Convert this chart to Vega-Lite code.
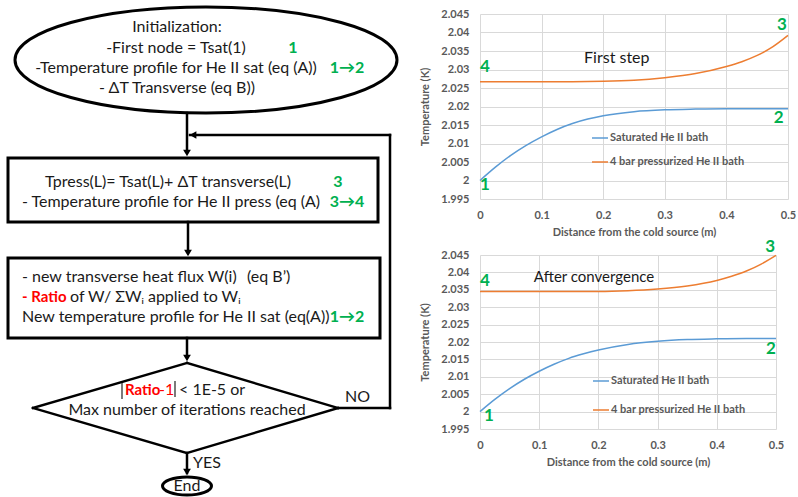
{
  "$schema": "https://vega.github.io/schema/vega-lite/v6.json",
  "padding": {"top": 0, "left": 0, "right": 0, "bottom": 0},
  "background": "white",
  "spacing": 16,
  "config": {
    "view": {"stroke": null},
    "font": "Lato",
    "axis": {"grid": true, "gridColor": "#d9d9d9", "gridWidth": 1, "domain": false, "ticks": false, "labelFlush": false,
      "labelFont": "Lato", "labelFontSize": 11, "labelFontWeight": "bold", "labelColor": "#595959",
      "titleFont": "Lato", "titleFontSize": 11, "titleFontWeight": "bold", "titleColor": "#595959"},
    "legend": {"orient": "none", "title": null, "symbolType": "stroke", "symbolStrokeWidth": 1.5, "symbolSize": 256,
      "labelFont": "Lato", "labelFontSize": 11, "labelFontWeight": "bold", "labelColor": "#595959", "labelOffset": 1, "padding": 0}
  },
  "datasets": {
    "boxes": [
      {"x": 8, "y": 158, "x2": 378, "y2": 222},
      {"x": 8, "y": 258, "x2": 380, "y2": 338}
    ],
    "links": [
      {"x": 187, "y": 113, "x2": 187, "y2": 152},
      {"x": 190, "y": 135, "x2": 390, "y2": 135},
      {"x": 390, "y": 135, "x2": 390, "y2": 408},
      {"x": 338, "y": 408, "x2": 390, "y2": 408},
      {"x": 188, "y": 222, "x2": 188, "y2": 252},
      {"x": 187, "y": 338, "x2": 187, "y2": 357},
      {"x": 187, "y": 363, "x2": 338, "y2": 408},
      {"x": 338, "y": 408, "x2": 187, "y2": 453},
      {"x": 187, "y": 453, "x2": 33, "y2": 408},
      {"x": 33, "y": 408, "x2": 187, "y2": 363},
      {"x": 187, "y": 453, "x2": 187, "y2": 473}
    ],
    "bars": [
      {"x": 122, "y": 383, "x2": 122, "y2": 399},
      {"x": 175, "y": 381, "x2": 175, "y2": 397}
    ],
    "heads": [
      {"x": 187, "y": 153, "dir": "down"},
      {"x": 188, "y": 253, "dir": "down"},
      {"x": 187, "y": 358, "dir": "down"},
      {"x": 187, "y": 472, "dir": "down"},
      {"x": 193, "y": 135, "dir": "left"}
    ],
    "startNode": [{"x": 206, "y": 60}],
    "endNode": [{"x": 187, "y": 486}],
    "centerText": [
      {"x": 177, "y": 27, "t": "Initialization:"},
      {"x": 176, "y": 48, "t": "-First node = Tsat(1)"},
      {"x": 176, "y": 68, "t": "-Temperature profile for He II sat (eq (A))"},
      {"x": 177, "y": 88, "t": "- ΔT Transverse (eq B))"},
      {"x": 168, "y": 182, "t": "Tpress(L)= Tsat(L)+ ΔT transverse(L)"},
      {"x": 171, "y": 202, "t": "- Temperature profile  for He II press (eq (A)"},
      {"x": 187, "y": 410, "t": "Max number of iterations reached"},
      {"x": 187, "y": 486, "t": "End"}
    ],
    "leftText": [
      {"x": 22, "y": 277, "t": "- new transverse heat flux W(i)"},
      {"x": 247, "y": 277, "t": "(eq B’)"},
      {"x": 70, "y": 297, "t": "of W/ ΣWᵢ applied to Wᵢ"},
      {"x": 22, "y": 317, "t": "New temperature profile for He II sat (eq(A))"},
      {"x": 179, "y": 390, "t": "< 1E-5 or"},
      {"x": 345, "y": 397, "t": "NO"},
      {"x": 193, "y": 463, "t": "YES"}
    ],
    "greenText": [
      {"x": 293, "y": 48, "t": "1"},
      {"x": 347, "y": 68, "t": "1→2"},
      {"x": 338, "y": 182, "t": "3"},
      {"x": 347, "y": 202, "t": "3→4"},
      {"x": 347, "y": 317, "t": "1→2"}
    ],
    "redBold": [
      {"x": 22, "y": 297, "t": "- Ratio"},
      {"x": 125, "y": 390, "t": "Ratio"}
    ],
    "redPlain": [
      {"x": 159, "y": 390, "t": "-1"}
    ],
    "first": [
      {"series": "Saturated He II bath", "x": 0, "T": 2.0000},
      {"series": "Saturated He II bath", "x": 0.025, "T": 2.0036},
      {"series": "Saturated He II bath", "x": 0.05, "T": 2.0068},
      {"series": "Saturated He II bath", "x": 0.075, "T": 2.0095},
      {"series": "Saturated He II bath", "x": 0.1, "T": 2.0118},
      {"series": "Saturated He II bath", "x": 0.125, "T": 2.0138},
      {"series": "Saturated He II bath", "x": 0.15, "T": 2.0154},
      {"series": "Saturated He II bath", "x": 0.175, "T": 2.0166},
      {"series": "Saturated He II bath", "x": 0.2, "T": 2.0175},
      {"series": "Saturated He II bath", "x": 0.25, "T": 2.0186},
      {"series": "Saturated He II bath", "x": 0.3, "T": 2.0191},
      {"series": "Saturated He II bath", "x": 0.35, "T": 2.0193},
      {"series": "Saturated He II bath", "x": 0.4, "T": 2.0194},
      {"series": "Saturated He II bath", "x": 0.45, "T": 2.0194},
      {"series": "Saturated He II bath", "x": 0.5, "T": 2.0194},
      {"series": "4 bar pressurized He II bath", "x": 0, "T": 2.0267},
      {"series": "4 bar pressurized He II bath", "x": 0.05, "T": 2.0267},
      {"series": "4 bar pressurized He II bath", "x": 0.1, "T": 2.0267},
      {"series": "4 bar pressurized He II bath", "x": 0.15, "T": 2.0267},
      {"series": "4 bar pressurized He II bath", "x": 0.2, "T": 2.0268},
      {"series": "4 bar pressurized He II bath", "x": 0.25, "T": 2.0271},
      {"series": "4 bar pressurized He II bath", "x": 0.3, "T": 2.0278},
      {"series": "4 bar pressurized He II bath", "x": 0.35, "T": 2.0289},
      {"series": "4 bar pressurized He II bath", "x": 0.4, "T": 2.0308},
      {"series": "4 bar pressurized He II bath", "x": 0.425, "T": 2.0321},
      {"series": "4 bar pressurized He II bath", "x": 0.45, "T": 2.0338},
      {"series": "4 bar pressurized He II bath", "x": 0.475, "T": 2.0361},
      {"series": "4 bar pressurized He II bath", "x": 0.5, "T": 2.0392}
    ],
    "converged": [
      {"series": "Saturated He II bath", "x": 0, "T": 2.0000},
      {"series": "Saturated He II bath", "x": 0.025, "T": 2.0035},
      {"series": "Saturated He II bath", "x": 0.05, "T": 2.0066},
      {"series": "Saturated He II bath", "x": 0.075, "T": 2.0093},
      {"series": "Saturated He II bath", "x": 0.1, "T": 2.0116},
      {"series": "Saturated He II bath", "x": 0.125, "T": 2.0136},
      {"series": "Saturated He II bath", "x": 0.15, "T": 2.0153},
      {"series": "Saturated He II bath", "x": 0.175, "T": 2.0166},
      {"series": "Saturated He II bath", "x": 0.2, "T": 2.0177},
      {"series": "Saturated He II bath", "x": 0.25, "T": 2.0193},
      {"series": "Saturated He II bath", "x": 0.3, "T": 2.0202},
      {"series": "Saturated He II bath", "x": 0.35, "T": 2.0207},
      {"series": "Saturated He II bath", "x": 0.4, "T": 2.0209},
      {"series": "Saturated He II bath", "x": 0.45, "T": 2.0210},
      {"series": "Saturated He II bath", "x": 0.5, "T": 2.0210},
      {"series": "4 bar pressurized He II bath", "x": 0, "T": 2.0345},
      {"series": "4 bar pressurized He II bath", "x": 0.05, "T": 2.0345},
      {"series": "4 bar pressurized He II bath", "x": 0.1, "T": 2.0345},
      {"series": "4 bar pressurized He II bath", "x": 0.15, "T": 2.0345},
      {"series": "4 bar pressurized He II bath", "x": 0.2, "T": 2.0345},
      {"series": "4 bar pressurized He II bath", "x": 0.25, "T": 2.0347},
      {"series": "4 bar pressurized He II bath", "x": 0.3, "T": 2.0352},
      {"series": "4 bar pressurized He II bath", "x": 0.35, "T": 2.0361},
      {"series": "4 bar pressurized He II bath", "x": 0.4, "T": 2.0377},
      {"series": "4 bar pressurized He II bath", "x": 0.425, "T": 2.0389},
      {"series": "4 bar pressurized He II bath", "x": 0.45, "T": 2.0404},
      {"series": "4 bar pressurized He II bath", "x": 0.475, "T": 2.0424},
      {"series": "4 bar pressurized He II bath", "x": 0.5, "T": 2.0449}
    ],
    "firstMarks": [
      {"x": 0.008, "T": 1.9988, "t": "1"},
      {"x": 0.485, "T": 2.0168, "t": "2"},
      {"x": 0.49, "T": 2.0420, "t": "3"},
      {"x": 0.008, "T": 2.0307, "t": "4"}
    ],
    "convMarks": [
      {"x": 0.015, "T": 1.9988, "t": "1"},
      {"x": 0.4915, "T": 2.0180, "t": "2"},
      {"x": 0.49, "T": 2.0472, "t": "3"},
      {"x": 0.0085, "T": 2.0376, "t": "4"}
    ],
    "firstTitle": [{"x": 0.169, "T": 2.0331, "t": "First step"}],
    "convTitle": [{"x": 0.091, "T": 2.0386, "t": "After convergence"}]
  },
  "hconcat": [
    {
      "width": 397,
      "height": 483,
      "encoding": {
        "x": {"field": "x", "type": "quantitative", "scale": {"domain": [0, 397]}, "axis": null},
        "y": {"field": "y", "type": "quantitative", "scale": {"domain": [14, 497], "reverse": true, "nice": false, "zero": false}, "axis": null}
      },
      "layer": [
        {"data": {"name": "boxes"}, "mark": {"type": "rect", "fill": "white", "stroke": "black", "strokeWidth": 3},
          "encoding": {"x2": {"field": "x2"}, "y2": {"field": "y2"}}},
        {"data": {"name": "links"}, "mark": {"type": "rule", "color": "black", "strokeWidth": 2.5, "strokeCap": "square"},
          "encoding": {"x2": {"field": "x2"}, "y2": {"field": "y2"}}},
        {"data": {"name": "bars"}, "mark": {"type": "rule", "color": "#333333", "strokeWidth": 1.3},
          "encoding": {"x2": {"field": "x2"}, "y2": {"field": "y2"}}},
        {"data": {"name": "heads"}, "mark": {"type": "point", "filled": true, "color": "black", "size": 60, "opacity": 1},
          "encoding": {"shape": {"field": "dir", "type": "nominal", "scale": {"domain": ["down", "left"], "range": ["triangle-down", "triangle-left"]}, "legend": null}}},
        {"data": {"name": "startNode"}, "mark": {"type": "point", "filled": false, "stroke": "black", "strokeWidth": 3, "opacity": 1,
          "shape": "M-1,0A1,0.2775,0,1,0,1,0A1,0.2775,0,1,0,-1,0Z", "size": 145924}},
        {"data": {"name": "endNode"}, "mark": {"type": "point", "filled": false, "stroke": "black", "strokeWidth": 3, "opacity": 1,
          "shape": "M-1,0A1,0.367,0,1,0,1,0A1,0.367,0,1,0,-1,0Z", "size": 2401}},
        {"data": {"name": "centerText"}, "mark": {"type": "text", "align": "center", "baseline": "middle", "fontSize": 16, "color": "#1a1a1a"},
          "encoding": {"text": {"field": "t"}}},
        {"data": {"name": "leftText"}, "mark": {"type": "text", "align": "left", "baseline": "middle", "fontSize": 16, "color": "#1a1a1a"},
          "encoding": {"text": {"field": "t"}}},
        {"data": {"name": "greenText"}, "mark": {"type": "text", "align": "center", "baseline": "middle", "fontSize": 16, "fontWeight": "bold", "color": "#00b050"},
          "encoding": {"text": {"field": "t"}}},
        {"data": {"name": "redBold"}, "mark": {"type": "text", "align": "left", "baseline": "middle", "fontSize": 15, "fontWeight": "bold", "color": "#ff0000"},
          "encoding": {"text": {"field": "t"}}},
        {"data": {"name": "redPlain"}, "mark": {"type": "text", "align": "left", "baseline": "middle", "fontSize": 16, "color": "#ff0000"},
          "encoding": {"text": {"field": "t"}}}
      ]
    },
    {
      "spacing": 1,
      "resolve": {"scale": {"color": "independent"}, "legend": {"color": "independent"}},
      "vconcat": [
        {
          "width": 308,
          "height": 185,
          "encoding": {
            "x": {"field": "x", "type": "quantitative", "scale": {"domain": [0, 0.5], "nice": false},
              "axis": {"values": [0, 0.1, 0.2, 0.3, 0.4, 0.5], "format": ".1~f", "title": "Distance from the cold source (m)", "labelPadding": 10, "titlePadding": 6}},
            "y": {"field": "T", "type": "quantitative", "scale": {"domain": [1.995, 2.045], "nice": false, "zero": false},
              "axis": {"values": [1.995, 2, 2.005, 2.01, 2.015, 2.02, 2.025, 2.03, 2.035, 2.04, 2.045], "format": ".3~f", "title": "Temperature (K)", "labelPadding": 11, "titlePadding": 10}}
          },
          "layer": [
            {"data": {"name": "first"}, "mark": {"type": "line", "strokeWidth": 1.5, "interpolate": "monotone"},
              "encoding": {"color": {"field": "series", "type": "nominal",
                "scale": {"domain": ["Saturated He II bath", "4 bar pressurized He II bath"], "range": ["#5b9bd5", "#ed7d31"]},
                "legend": {"legendX": 111, "legendY": 115, "rowPadding": 10}}}},
            {"data": {"name": "firstMarks"}, "mark": {"type": "text", "fontSize": 17, "fontWeight": "bold", "color": "#00b050", "baseline": "middle"},
              "encoding": {"text": {"field": "t"}}},
            {"data": {"name": "firstTitle"}, "mark": {"type": "text", "fontSize": 16, "color": "#1a1a1a", "align": "left", "baseline": "middle"},
              "encoding": {"text": {"field": "t"}}}
          ]
        },
        {
          "width": 296,
          "height": 174,
          "encoding": {
            "x": {"field": "x", "type": "quantitative", "scale": {"domain": [0, 0.5], "nice": false},
              "axis": {"values": [0, 0.1, 0.2, 0.3, 0.4, 0.5], "format": ".1~f", "title": "Distance from the cold source (m)", "labelPadding": 10, "titlePadding": 6}},
            "y": {"field": "T", "type": "quantitative", "scale": {"domain": [1.995, 2.045], "nice": false, "zero": false},
              "axis": {"values": [1.995, 2, 2.005, 2.01, 2.015, 2.02, 2.025, 2.03, 2.035, 2.04, 2.045], "format": ".3~f", "title": "Temperature (K)", "labelPadding": 11, "titlePadding": 10}}
          },
          "layer": [
            {"data": {"name": "converged"}, "mark": {"type": "line", "strokeWidth": 1.5, "interpolate": "monotone"},
              "encoding": {"color": {"field": "series", "type": "nominal",
                "scale": {"domain": ["Saturated He II bath", "4 bar pressurized He II bath"], "range": ["#5b9bd5", "#ed7d31"]},
                "legend": {"legendX": 112, "legendY": 117, "rowPadding": 15}}}},
            {"data": {"name": "convMarks"}, "mark": {"type": "text", "fontSize": 17, "fontWeight": "bold", "color": "#00b050", "baseline": "middle"},
              "encoding": {"text": {"field": "t"}}},
            {"data": {"name": "convTitle"}, "mark": {"type": "text", "fontSize": 15, "color": "#1a1a1a", "align": "left", "baseline": "middle"},
              "encoding": {"text": {"field": "t"}}}
          ]
        }
      ]
    }
  ]
}
